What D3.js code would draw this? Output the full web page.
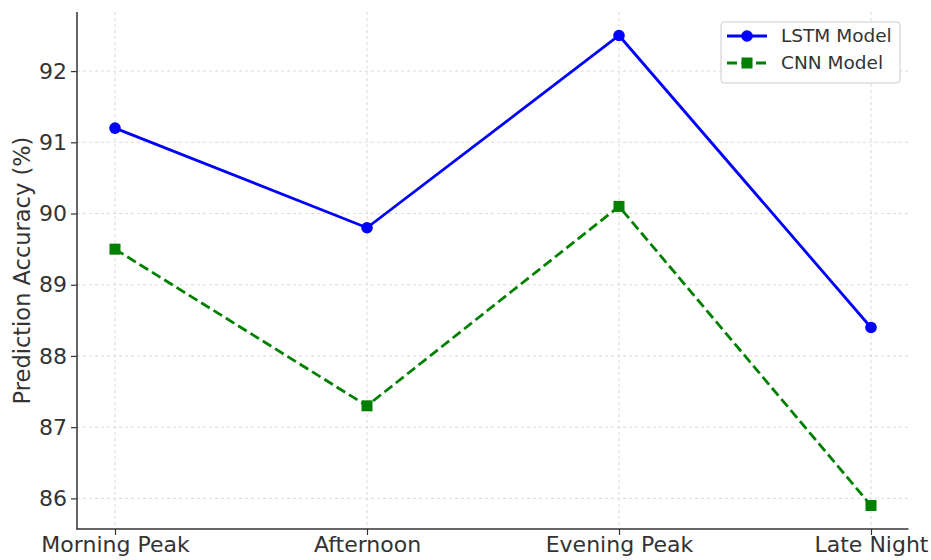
<!DOCTYPE html>
<html><head><meta charset="utf-8">
<script src="https://cdn.jsdelivr.net/npm/d3@7"></script>
<style>body{margin:0;background:#fff;}svg{display:block;font-family:"DejaVu Sans",sans-serif;}</style>
</head><body>
<svg id="c" width="931" height="560"></svg>
<script>
const categories = ["Morning Peak", "Afternoon", "Evening Peak", "Late Night"];
const lstmValues = [91.2, 89.8, 92.5, 88.4];
const cnnValues = [89.5, 87.3, 90.1, 85.9];
const yTicks = [86, 87, 88, 89, 90, 91, 92];
const seriesNames = ["LSTM Model", "CNN Model"];

const svg = d3.select("#c");
const L = 77, R = 908.5, T = 12, B = 529;
const x = d3.scalePoint().domain(categories).range([115, 871]);
const y = d3.scaleLinear().domain([85.57, 92.83]).range([B, T]);

// grid
const g = svg.append("g");
g.selectAll(".hg").data(yTicks).join("line")
  .attr("x1", L).attr("x2", R).attr("y1", d => y(d)).attr("y2", d => y(d))
  .attr("stroke", "#d0d0d0").attr("stroke-width", 0.8).attr("stroke-dasharray", "3,3");
g.selectAll(".vg").data(categories).join("line")
  .attr("x1", d => x(d)).attr("x2", d => x(d)).attr("y1", T).attr("y2", B)
  .attr("stroke", "#d0d0d0").attr("stroke-width", 0.8).attr("stroke-dasharray", "3,3");

// axes
const ya = svg.append("g").attr("transform", `translate(${L},0)`)
  .call(d3.axisLeft(y).tickValues(yTicks).tickSize(6).tickPadding(4).tickFormat(d3.format("d")));
const xa = svg.append("g").attr("transform", `translate(0,${B})`)
  .call(d3.axisBottom(x).tickSize(6).tickPadding(1.5));
[ya, xa].forEach(a => {
  a.select(".domain").remove();
  a.selectAll("line").attr("stroke", "#333").attr("stroke-width", 1.2);
  a.selectAll("text").attr("fill", "#333").attr("font-size", 22).attr("font-family", "DejaVu Sans");
});
svg.append("line").attr("x1", L).attr("x2", L).attr("y1", T).attr("y2", B + 0.5)
  .attr("stroke", "#333").attr("stroke-width", 1.5);
svg.append("line").attr("x1", L - 0.5).attr("x2", R).attr("y1", B).attr("y2", B)
  .attr("stroke", "#333").attr("stroke-width", 1.5);

svg.append("text").attr("transform", `translate(30,${(T + B) / 2}) rotate(-90)`)
  .attr("text-anchor", "middle").attr("font-size", 22.5).attr("fill", "#333")
  .text("Prediction Accuracy (%)");

const line = d3.line().x((d, i) => x(categories[i])).y(d => y(d));
svg.append("path").datum(lstmValues).attr("d", line).attr("fill", "none")
  .attr("stroke", "#0000ff").attr("stroke-width", 2.8);
svg.selectAll(".lp").data(lstmValues).join("circle")
  .attr("cx", (d, i) => x(categories[i])).attr("cy", d => y(d)).attr("r", 5.8).attr("fill", "#0000ff");
svg.append("path").datum(cnnValues).attr("d", line).attr("fill", "none")
  .attr("stroke", "#008000").attr("stroke-width", 2.8).attr("stroke-dasharray", "10,4.5");
svg.selectAll(".cp").data(cnnValues).join("rect")
  .attr("x", (d, i) => x(categories[i]) - 5.5).attr("y", d => y(d) - 5.5)
  .attr("width", 11).attr("height", 11).attr("fill", "#008000");

// legend
const lg = svg.append("g").attr("transform", "translate(721,22)");
lg.append("rect").attr("width", 179).attr("height", 61).attr("rx", 3)
  .attr("fill", "#fff").attr("fill-opacity", 0.85).attr("stroke", "#ccc").attr("stroke-width", 1);
const colors = ["#0000ff", "#008000"];
seriesNames.forEach((n, i) => {
  const yy = 14 + i * 27;
  lg.append("line").attr("x1", 6).attr("x2", 46).attr("y1", yy).attr("y2", yy)
    .attr("stroke", colors[i]).attr("stroke-width", 2.8)
    .attr("stroke-dasharray", i ? "10,4.5" : null);
  if (i === 0) lg.append("circle").attr("cx", 26).attr("cy", yy).attr("r", 5.8).attr("fill", colors[i]);
  else lg.append("rect").attr("x", 20.5).attr("y", yy - 5.5).attr("width", 11).attr("height", 11).attr("fill", colors[i]);
  lg.append("text").attr("x", 60).attr("y", yy).attr("dy", "0.35em").attr("font-size", 18.5)
    .attr("fill", "#333").text(n);
});
</script>
</body></html>
